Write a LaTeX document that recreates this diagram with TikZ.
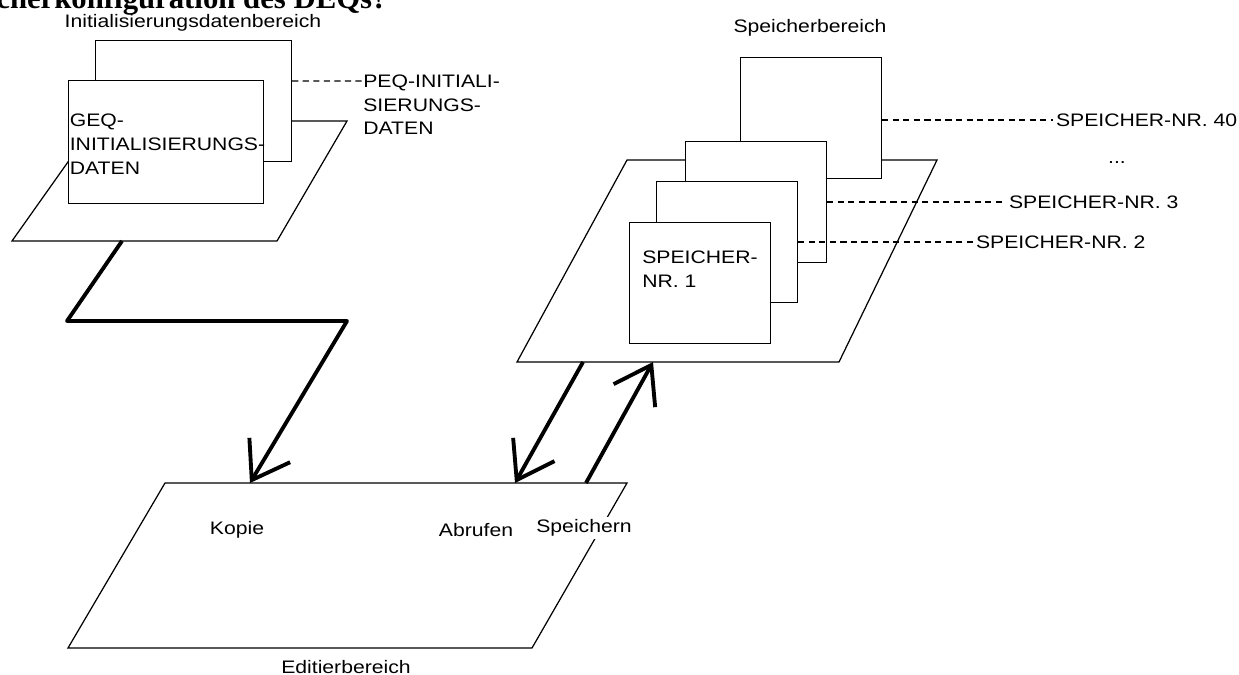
\documentclass[tikz,border=0pt]{standalone}
\usepackage{fontspec}
\setmainfont{Liberation Sans}[FakeStretch=1.17]
\newfontfamily\headfont{Liberation Serif}
\usetikzlibrary{arrows.meta,calc}

\begin{document}
\begin{tikzpicture}[x=0.02cm, y=-0.02cm,
  font=\fontsize{10.3}{13.4}\selectfont,
  plane/.style={draw, line width=0.7pt, fill=white},
  sheet/.style={draw, line width=0.7pt, fill=white, inner sep=0pt, minimum width=2.82cm, minimum height=2.42cm},
  txt/.style={inner sep=0pt, align=left},
  lbl/.style={inner sep=1.5pt},
  lead/.style={line width=0.6pt, dash pattern=on 3.5pt off 2.5pt},
  flow/.style={line width=2.2pt, line join=round, -{Straight Barb[length=7mm,width=9.5mm]}}
]
\useasboundingbox (0,0) rectangle (1239,675);

% cut-off heading
\node[inner sep=0pt, anchor=base west, font=\headfont\bfseries\fontsize{17.5}{20}\selectfont] (head) at (-4,9) {cherkonfiguration des DEQs?};

% Initialisierungsdatenbereich
\draw[plane] (97,121) -- (347,121) -- (277,241) -- (12,241) -- cycle;
\coordinate (kopieout) at (122,241);
\node[lbl] (initlbl) at (193,23) {Initialisierungsdatenbereich};
\node[sheet, anchor=north west, minimum width=3.92cm] (peq) at (95,40) {};
\node[sheet, anchor=north west, minimum width=3.90cm, minimum height=2.46cm] (geq) at (68,80) {};
\node[txt, anchor=north west] (geqtxt) at (69.5,114) {GEQ-\\INITIALISIERUNGS-\\DATEN};
\node[txt, anchor=north west] (peqtxt) at (363,74.5) {PEQ-INITIALI-\\SIERUNGS-\\DATEN};
\draw[lead] ($(peq.north east)+(0,41)$) -- ($(peqtxt.north west)+(-1,6.5)$);

% Speicherbereich
\draw[plane] (627,160) -- (937,160) -- (839,362) -- (517,362) -- cycle;
\coordinate (abrufout) at (583,362);
\coordinate (speichin) at (653,362);
\node[lbl] (memlbl) at (810,28) {Speicherbereich};
\node[sheet, anchor=north west] (mem40) at (740,57) {};
\node[sheet, anchor=north west] (mem3) at (685,141) {};
\node[sheet, anchor=north west] (mem2) at (656,181) {};
\node[sheet, anchor=north west] (mem1) at (629,222) {};
\node[txt, anchor=north west] (mem1txt) at (642,250.5) {SPEICHER-\\NR. 1};

\node[lbl, anchor=west] (nr40) at (1053,120) {SPEICHER-NR. 40};
\node[lbl] (nrdots) at (1117,163) {...};
\node[lbl, anchor=west] (nr3) at (1006,202) {SPEICHER-NR. 3};
\node[lbl, anchor=west] (nr2) at (973,242) {SPEICHER-NR. 2};
\draw[lead] (mem40.east |- nr40.west) -- (nr40.west);
\draw[lead] (mem3.east |- nr3.west) -- (nr3.west);
\draw[lead] (mem2.east |- nr2.west) -- (nr2.west);

% Editierbereich
\draw[plane] (165,483) -- (627,483) -- (532,648) -- (68,648) -- cycle;
\coordinate (kopiein) at (250,483);
\coordinate (abrufin) at (515,483);
\coordinate (speichout) at (586,483);
\node[lbl] (kopie) at (237,530) {Kopie};
\node[lbl] (abruf) at (476,530) {Abrufen};
\node[lbl, fill=white] (speich) at (584,528) {Speichern};
\node[lbl] (editlbl) at (346,667) {Editierbereich};

\draw[flow] (kopieout) -- (67,321) -- (347,321) -- (kopiein);
\draw[flow] (abrufout) -- (abrufin);
\draw[flow] (speichout) -- (speichin);
\end{tikzpicture}
\end{document}
